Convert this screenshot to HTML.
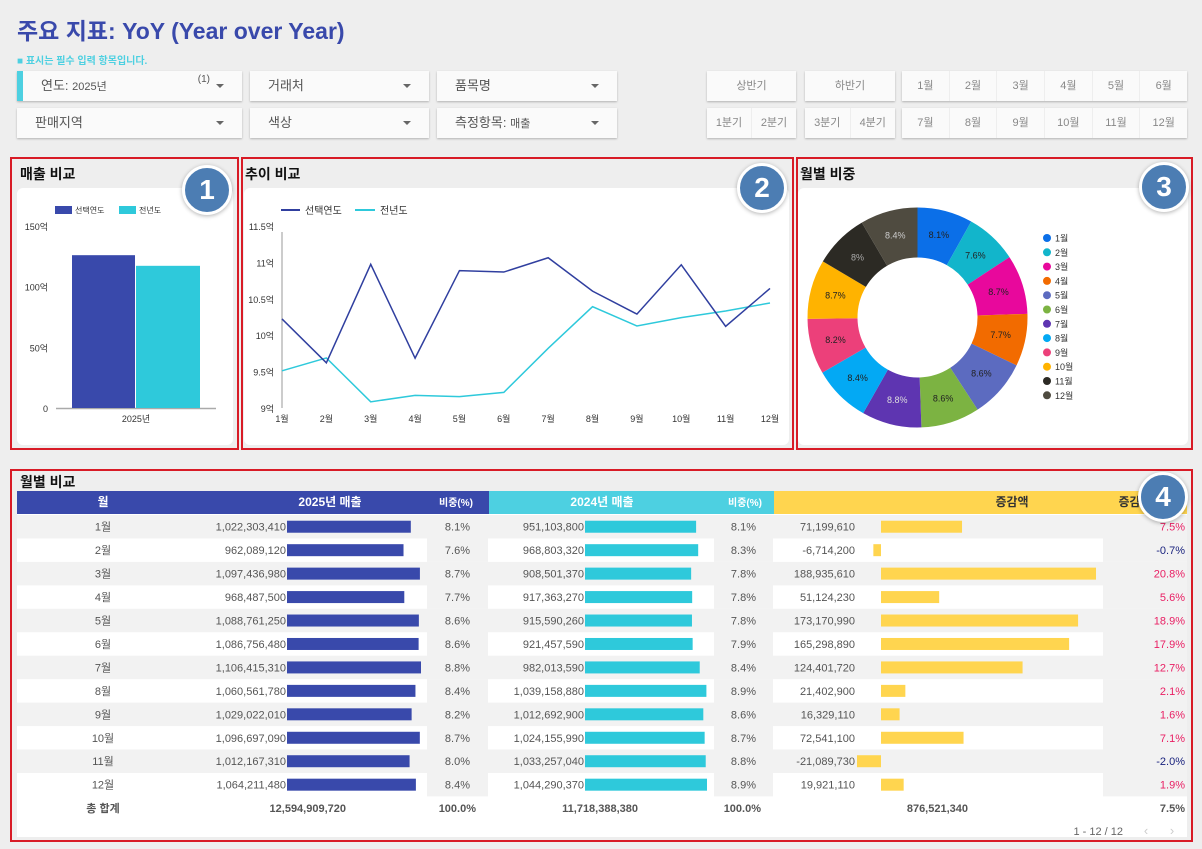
<!DOCTYPE html>
<html><head><meta charset="utf-8">
<style>
*{box-sizing:border-box;margin:0;padding:0}
body{width:1202px;height:849px;background:#eeeeee;font-family:"Liberation Sans","Noto Sans CJK KR",sans-serif;position:relative;overflow:hidden;color:#333}
.abs{position:absolute}
.title{left:17px;top:12px;font-size:23px;font-weight:bold;color:#3949ab}
.sub{left:17px;top:52px;font-size:10px;font-weight:bold;color:#4dd0e1}
.filt{background:#fafafa;box-shadow:0 1px 2px rgba(0,0,0,.25);height:30px;font-size:13px;color:#555;line-height:30px;padding-left:18px}
.filt .arr{position:absolute;right:18px;top:13px;width:0;height:0;border-left:4px solid transparent;border-right:4px solid transparent;border-top:4px solid #666}
.btn{background:#fafafa;box-shadow:0 1px 2px rgba(0,0,0,.25);height:30px;font-size:11px;color:#888;display:flex}
.btn div{flex:1;text-align:center;line-height:30px;border-right:1px solid #eee}
.btn div:last-child{border-right:none}
.panel{border:2px solid #d81b26}
.ptitle{font-size:14px;font-weight:bold;color:#111}
.card{background:#fff;border-radius:6px}
.badge{width:50px;height:50px;border-radius:50%;background:#4c7db3;border:3px solid #fff;box-shadow:0 1px 4px rgba(0,0,0,.3);color:#fff;font-size:28px;font-weight:bold;text-align:center;line-height:44px}
svg text{font-family:"Liberation Sans","Noto Sans CJK KR",sans-serif}
</style></head><body>
<div class="abs title">주요 지표: YoY (Year over Year)</div>
<div class="abs sub">■ 표시는 필수 입력 항목입니다.</div>

<div class="abs filt" style="left:17px;top:71px;width:225px;border-left:6px solid #4dd0e1">연도: <span style="font-size:11px">2025년</span><span style="position:absolute;right:32px;top:-6px;font-size:10px">(1)</span><span class="arr"></span></div>
<div class="abs filt" style="left:250px;top:71px;width:179px">거래처<span class="arr"></span></div>
<div class="abs filt" style="left:437px;top:71px;width:180px">품목명<span class="arr"></span></div>
<div class="abs filt" style="left:17px;top:108px;width:225px">판매지역<span class="arr"></span></div>
<div class="abs filt" style="left:250px;top:108px;width:179px">색상<span class="arr"></span></div>
<div class="abs filt" style="left:437px;top:108px;width:180px">측정항목: <span style="font-size:11px">매출</span><span class="arr"></span></div>

<div class="abs btn" style="left:707px;top:71px;width:89px"><div>상반기</div></div>
<div class="abs btn" style="left:805px;top:71px;width:90px"><div>하반기</div></div>
<div class="abs btn" style="left:707px;top:108px;width:89px"><div>1분기</div><div>2분기</div></div>
<div class="abs btn" style="left:805px;top:108px;width:90px"><div>3분기</div><div>4분기</div></div>
<div class="abs btn" style="left:902px;top:71px;width:285px"><div>1월</div><div>2월</div><div>3월</div><div>4월</div><div>5월</div><div>6월</div></div>
<div class="abs btn" style="left:902px;top:108px;width:285px"><div>7월</div><div>8월</div><div>9월</div><div>10월</div><div>11월</div><div>12월</div></div>

<!-- panels -->
<div class="abs panel" style="left:10px;top:157px;width:229px;height:293px"></div>
<div class="abs ptitle" style="left:20px;top:164px">매출 비교</div>
<div class="abs card" style="left:17px;top:188px;width:216px;height:257px"></div>

<div class="abs panel" style="left:241px;top:157px;width:553px;height:293px"></div>
<div class="abs ptitle" style="left:245px;top:164px">추이 비교</div>
<div class="abs card" style="left:244px;top:188px;width:545px;height:257px"></div>

<div class="abs panel" style="left:796px;top:157px;width:397px;height:293px"></div>
<div class="abs ptitle" style="left:800px;top:164px">월별 비중</div>
<div class="abs card" style="left:798px;top:188px;width:390px;height:257px"></div>

<div class="abs panel" style="left:10px;top:469px;width:1183px;height:373px"></div>
<div class="abs ptitle" style="left:20px;top:472px">월별 비교</div>
<div class="abs" style="left:17px;top:491px;width:1170px;height:346px;background:#fff"></div>

<svg id="charts" class="abs" style="left:0;top:0" width="1202" height="849"></svg>

<div class="abs badge" style="left:182px;top:165px">1</div>
<div class="abs badge" style="left:737px;top:163px">2</div>
<div class="abs badge" style="left:1139px;top:162px">3</div>
<div class="abs badge" style="left:1138px;top:472px">4</div>

<script>
const months = ['1월','2월','3월','4월','5월','6월','7월','8월','9월','10월','11월','12월'];
const sales2025 = [1022303410,962089120,1097436980,968487500,1088761250,1086756480,1106415310,1060561780,1029022010,1096697090,1012167310,1064211480];
const sales2024 = [951103800,968803320,908501370,917363270,915590260,921457590,982013590,1039158880,1012692900,1024155990,1033257040,1044290370];
const share2025 = ['8.1%','7.6%','8.7%','7.7%','8.6%','8.6%','8.8%','8.4%','8.2%','8.7%','8.0%','8.4%'];
const share2024 = ['8.1%','8.3%','7.8%','7.8%','7.8%','7.9%','8.4%','8.9%','8.6%','8.7%','8.8%','8.9%'];
const donutLabels = ['8.1%','7.6%','8.7%','7.7%','8.6%','8.6%','8.8%','8.4%','8.2%','8.7%','8%','8.4%'];
const diffPct = ['7.5%','-0.7%','20.8%','5.6%','18.9%','17.9%','12.7%','2.1%','1.6%','7.1%','-2.0%','1.9%'];
const totals = ['12,594,909,720','100.0%','11,718,388,380','100.0%','876,521,340','7.5%'];
const barCategories = ['2025년'];
const barSelected = [12594909720];
const barPrev = [11718388380];
const barTicks = [0,50,100,150];
const lineTicks = [9,9.5,10,10.5,11,11.5];
const donutColors = ['#0b6fe8','#12b5cb','#e8089c','#f26b00','#5c6bc0','#7cb342','#5e35b1','#03a9f4','#ec407a','#ffb300','#2c2a24','#4f4b40'];
const donutText = ['#222','#222','#222','#222','#222','#222','#ddd','#222','#222','#222','#aaa','#ccc'];

const NS='http://www.w3.org/2000/svg';
const svg=document.getElementById('charts');
function mk(tag,attrs,parent,txt){const e=document.createElementNS(NS,tag);for(const k in attrs)e.setAttribute(k,attrs[k]);if(txt!==undefined)e.textContent=txt;(parent||svg).appendChild(e);return e;}
const fmt=v=>v.toLocaleString('en-US');

// ---- bar chart
const byB=v=>408-(v/1e8)/150*182;
for(let i=0;i<barTicks.length;i++){
  const t=mk('text',{x:48,y:byB(barTicks[i]*1e8)+4,'font-size':9,'text-anchor':'end',fill:'#333'},svg,barTicks[i]===0?'0':barTicks[i]+'억');
  
}
const bl=mk('line',{x1:56,x2:216,y1:408.5,y2:408.5,stroke:'#aaa','stroke-width':1.5});

barCategories.forEach((c,i)=>{
  const cx=136;
  let r=mk('rect',{x:cx-64,y:byB(barSelected[i]),width:63,height:408-byB(barSelected[i]),fill:'#3949ab'});
  
  r=mk('rect',{x:cx,y:byB(barPrev[i]),width:64,height:408-byB(barPrev[i]),fill:'#2ec9db'});
  
  const t=mk('text',{x:cx,y:422,'font-size':9,'text-anchor':'middle',fill:'#333'},svg,c);
  
});
let g=mk('g',{});
mk('rect',{x:55,y:206,width:17,height:8,fill:'#3949ab'},g);mk('text',{x:75,y:213,'font-size':8,fill:'#333'},g,'선택연도');
mk('rect',{x:119,y:206,width:17,height:8,fill:'#2ec9db'},g);mk('text',{x:139,y:213,'font-size':8,fill:'#333'},g,'전년도');

// ---- line chart
const lx=i=>282+i*(770-282)/11;
const ly=v=>408-(v-9)/2.5*182;
lineTicks.forEach(t=>{const e=mk('text',{x:274,y:ly(t)+4,'font-size':9,'text-anchor':'end',fill:'#333'},svg,t+'억');});
const la=mk('line',{x1:282,x2:282,y1:232,y2:408,stroke:'#bbb','stroke-width':1.5});
months.forEach((m,i)=>{const e=mk('text',{x:lx(i),y:422,'font-size':9,'text-anchor':'middle',fill:'#333'},svg,m);});
let p=mk('polyline',{points:sales2024.map((v,i)=>lx(i)+','+ly(v/1e8)).join(' '),fill:'none',stroke:'#2ec9db','stroke-width':1.5});

p=mk('polyline',{points:sales2025.map((v,i)=>lx(i)+','+ly(v/1e8)).join(' '),fill:'none',stroke:'#303f9f','stroke-width':1.5});

g=mk('g',{});
mk('line',{x1:281,x2:300,y1:210,y2:210,stroke:'#303f9f','stroke-width':2},g);mk('text',{x:305,y:214,'font-size':10,fill:'#333'},g,'선택연도');
mk('line',{x1:355,x2:375,y1:210,y2:210,stroke:'#2ec9db','stroke-width':2},g);mk('text',{x:380,y:214,'font-size':10,fill:'#333'},g,'전년도');

// ---- donut
const cx=917.5,cy=317.5,R=110,r0=60;
const tot=sales2025.reduce((a,b)=>a+b,0);
let ang=-Math.PI/2;
sales2025.forEach((v,i)=>{
  const a2=ang+v/tot*2*Math.PI;
  const P=(rad,a)=>(cx+rad*Math.cos(a)).toFixed(2)+','+(cy+rad*Math.sin(a)).toFixed(2);
  const d='M'+P(R,ang)+' A'+R+','+R+' 0 0 1 '+P(R,a2)+' L'+P(r0,a2)+' A'+r0+','+r0+' 0 0 0 '+P(r0,ang)+'Z';
  const s=mk('path',{d:d,fill:donutColors[i]});
  
  const am=(ang+a2)/2;
  const t=mk('text',{x:cx+85*Math.cos(am),y:cy+85*Math.sin(am)+3,'font-size':9,'text-anchor':'middle',fill:donutText[i]},svg,donutLabels[i]);
  
  const lg=mk('g',{});
  mk('circle',{cx:1047,cy:238+i*14.3,r:4,fill:donutColors[i]},lg);
  mk('text',{x:1055,y:241.5+i*14.3,'font-size':9,fill:'#333'},lg,months[i]);
  ang=a2;
});

// ---- table
const T0=515,RH=23.45;
const hdr=[[17,489,'#3949ab'],[489,774,'#4dd0e1'],[774,1187,'#ffd54f']];
hdr.forEach(h=>{const r=mk('rect',{x:h[0],y:491,width:h[1]-h[0],height:23,fill:h[2]});});
[[103,'월','#fff'],[330,'2025년   매출','#fff'],[456,'비중(%)','#fff'],[602,'2024년     매출','#fff'],[745,'비중(%)','#fff'],[1012,'증감액','#333'],[1135,'증감률','#333']].forEach(h=>{
  const t=mk('text',{x:h[0],y:506,'font-size':h[1].startsWith('비중')?10:12,'font-weight':'bold','text-anchor':'middle',fill:h[2]},svg,h[1]);
  
});
const maxA=Math.max(...sales2025),maxB=Math.max(...sales2024);
months.forEach((m,i)=>{
  const y=T0+i*RH,c=y+RH/2;
  const row=mk('g',{});
  if(i%2===0) mk('rect',{x:17,y:y,width:1170,height:RH,fill:'#f2f2f2'},row);
  [[427,488],[714,773],[1103,1187]].forEach(z=>mk('rect',{x:z[0],y:y,width:z[1]-z[0],height:RH,fill:'#f2f2f2'},row));
  const tx=(x,s,anc,fill)=>mk('text',{x:x,y:c+4,'font-size':11,'text-anchor':anc,fill:fill||'#555'},row,s);
  tx(103,m,'middle');
  tx(286,fmt(sales2025[i]),'end');
  mk('rect',{x:287,y:c-6,width:sales2025[i]/maxA*134,height:12,fill:'#3949ab'},row);
  tx(470,share2025[i],'end');
  tx(584,fmt(sales2024[i]),'end');
  mk('rect',{x:585,y:c-6,width:sales2024[i]/maxB*122,height:12,fill:'#2ec9db'},row);
  tx(756,share2024[i],'end');
  const d=sales2025[i]-sales2024[i];
  tx(855,fmt(d),'end');
  const w=Math.abs(d)*1.138e-6;
  mk('rect',{x:d>=0?881:881-w,y:c-6,width:w,height:12,fill:'#ffd54f'},row);
  tx(1185,diffPct[i],'end',diffPct[i].startsWith('-')?'#1a237e':'#e91e63');
});
const ty=T0+12*RH+RH/2+4;
[[103,'총 합계','middle'],[346,totals[0],'end'],[476,totals[1],'end'],[638,totals[2],'end'],[761,totals[3],'end'],[968,totals[4],'end'],[1185,totals[5],'end']].forEach(a=>{
  const t=mk('text',{x:a[0],y:ty,'font-size':11,'font-weight':'bold','text-anchor':a[2],fill:'#555'},svg,a[1]);
  
});
let pg=mk('text',{x:1123,y:835,'font-size':11,'text-anchor':'end',fill:'#666'},svg,'1 - 12 / 12');

pg=mk('text',{x:1146,y:835,'font-size':13,'text-anchor':'middle',fill:'#ccc'},svg,'‹');

pg=mk('text',{x:1172,y:835,'font-size':13,'text-anchor':'middle',fill:'#ccc'},svg,'›');

</script>
</body></html>
